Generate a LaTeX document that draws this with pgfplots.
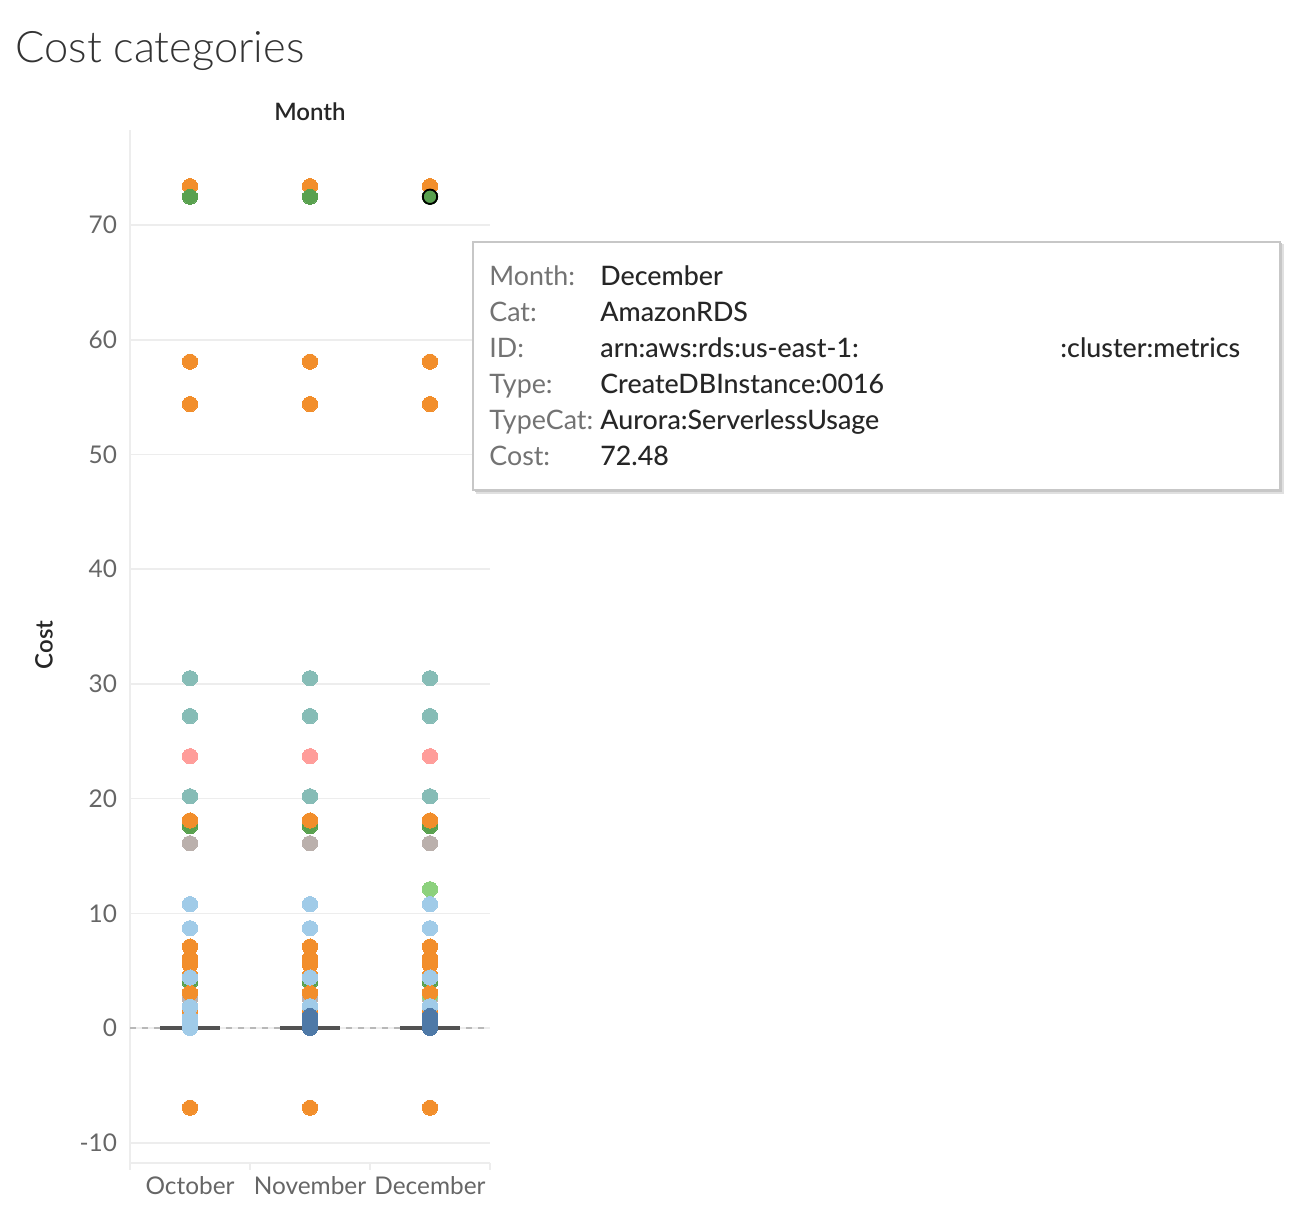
\documentclass[border=0pt]{standalone}
\usepackage{fontspec}
\setmainfont{Lato}
\newfontfamily\latolight{Lato Light}
\newfontfamily\latosemi{Lato Semibold}
\newfontfamily\latomed{Lato Medium}
\usepackage{pgfplots}
\pgfplotsset{compat=1.18}
\definecolor{tOrange}{HTML}{F28E2B}
\definecolor{tGreen}{HTML}{59A14F}
\definecolor{tTeal}{HTML}{86BCB6}
\definecolor{tPink}{HTML}{FF9D9A}
\definecolor{tGray}{HTML}{BAB0AC}
\definecolor{tLGreen}{HTML}{8CD17D}
\definecolor{tLBlue}{HTML}{A0CBE8}
\definecolor{tBlue}{HTML}{4E79A7}
\definecolor{txtdark}{HTML}{333333}
\definecolor{txtgray}{HTML}{666666}
\definecolor{gridc}{HTML}{EDEDED}
\pgfplotsset{dot/.style={only marks, mark=*, mark size=3.8pt, color=#1, mark options={solid, draw=#1, fill=#1, line width=0pt}}}
\begin{document}
\begin{tikzpicture}[x=1pt,y=1pt]
\useasboundingbox (0,0) rectangle (655,610);
\node[anchor=base west, font=\fontsize{21.7}{24}\latolight, text=txtdark, inner sep=0] at (7.5,578.5) {Cost categories};
\node[anchor=base, font=\fontsize{12}{14}\latosemi, text=black!85, inner sep=0] at (155,549.5) {Month};
\node[rotate=90, font=\fontsize{12}{14}\latosemi, text=black!85, inner sep=0] at (22,287.5) {Cost};
\begin{axis}[
  at={(65pt,28.5pt)}, anchor=south west, scale only axis,
  width=180pt, height=516.5pt,
  xmin=-0.5, xmax=2.5, ymin=-11.77, ymax=78.3,
  axis x line*=bottom, axis y line*=left,
  x axis line style={draw=gridc, line width=0.8pt, -},
  y axis line style={draw=gridc, line width=0.6pt, -},
  xtick={0,1,2}, xticklabels={October,November,December},
  minor xtick={-0.5,0.5,1.5,2.5},
  ytick={-10,0,10,20,30,40,50,60,70},
  major tick length=0pt, minor tick length=3.5pt,
  tick align=outside,
  minor tick style={draw=gridc, line width=0.8pt},
  ymajorgrids, major grid style={draw=gridc, line width=0.8pt},
  tick label style={font=\fontsize{12.2}{14}\selectfont, text=txtgray},
  /pgf/number format/assume math mode=true,
  xticklabel style={yshift=-3pt},
  yticklabel style={xshift=-3pt},
]
% zero reference line
\addplot[draw=black!28, dashed, line width=0.6pt] coordinates {(-0.5,0) (2.5,0)};
\addplot[dot=tGray] table {
x y
0 16.1
1 16.1
2 16.1
0 2.6
1 2.6
2 2.6
};
\addplot[dot=tGreen] table {
x y
0 17.6
1 17.6
2 17.6
0 4.0
1 4.0
2 4.0
};
\addplot[dot=tLGreen] table {
x y
2 12.1
2 2.8
};
\addplot[dot=tOrange] table {
x y
0 73.4
1 73.4
2 73.4
0 58.1
1 58.1
2 58.1
0 54.4
1 54.4
2 54.4
0 18.1
1 18.1
2 18.1
0 7.1
1 7.1
2 7.1
0 6.1
1 6.1
2 6.1
0 5.5
1 5.5
2 5.5
0 4.6
1 4.6
2 4.6
0 3.07
1 3.07
2 3.07
0 1.4
1 1.4
2 1.4
0 -6.95
1 -6.95
2 -6.95
};
\addplot[dot=tGreen] table {
x y
0 72.48
1 72.48
2 72.48
};
\addplot[dot=tTeal] table {
x y
0 30.5
1 30.5
2 30.5
0 27.2
1 27.2
2 27.2
0 20.2
1 20.2
2 20.2
};
\addplot[dot=tPink] table {
x y
0 23.7
1 23.7
2 23.7
};
\addplot[dot=tLBlue] table {
x y
0 10.8
1 10.8
2 10.8
0 8.7
1 8.7
2 8.7
0 4.4
1 4.4
2 4.4
0 1.85
1 1.9
2 1.9
0 0.9
0 0.3
0 0.0
};
\addplot[dot=tBlue] table {
x y
1 1.05
1 0.7
1 0.35
1 0.0
2 1.05
2 0.7
2 0.35
2 0.0
};
% median-like bars at zero
\addplot[draw=black!68, line width=2pt] coordinates {(-0.25,0) (0.25,0)};
\addplot[draw=black!68, line width=2pt] coordinates {(0.75,0) (1.25,0)};
\addplot[draw=black!68, line width=2pt] coordinates {(1.75,0) (2.25,0)};
% highlighted point
\addplot[only marks, mark=*, mark size=3.6pt, mark options={draw=black, line width=0.9pt, fill=tGreen}] coordinates {(2,72.48)};
\end{axis}
% tooltip
\fill[black!12] (238,363) rectangle (642,488);
\fill[black!22] (237.5,364) rectangle (641,488.5);
\filldraw[fill=white, draw=black!22, line width=0.6pt] (236.5,365) rectangle (640,489);
\begin{scope}[every node/.style={anchor=base west, inner sep=0, font=\fontsize{13.4}{15}\selectfont}]
\node[text=black!55] at (244.5,467) {Month:};
\node[text=black!55] at (244.5,449) {Cat:};
\node[text=black!55] at (244.5,431) {ID:};
\node[text=black!55] at (244.5,413) {Type:};
\node[text=black!55] at (244.5,395) {TypeCat:};
\node[text=black!55] at (244.5,377) {Cost:};
\end{scope}
\begin{scope}[every node/.style={anchor=base west, inner sep=0, font=\fontsize{13.4}{15}\latomed, text=black!85}]
\node at (300,467) {December};
\node at (300,449) {AmazonRDS};
\node at (300,431) {arn:aws:rds:us-east-1:};
\node at (530,431) {:cluster:metrics};
\node at (300,413) {CreateDBInstance:0016};
\node at (300,395) {Aurora:ServerlessUsage};
\node at (300,377) {72.48};
\end{scope}
\end{tikzpicture}
\end{document}
